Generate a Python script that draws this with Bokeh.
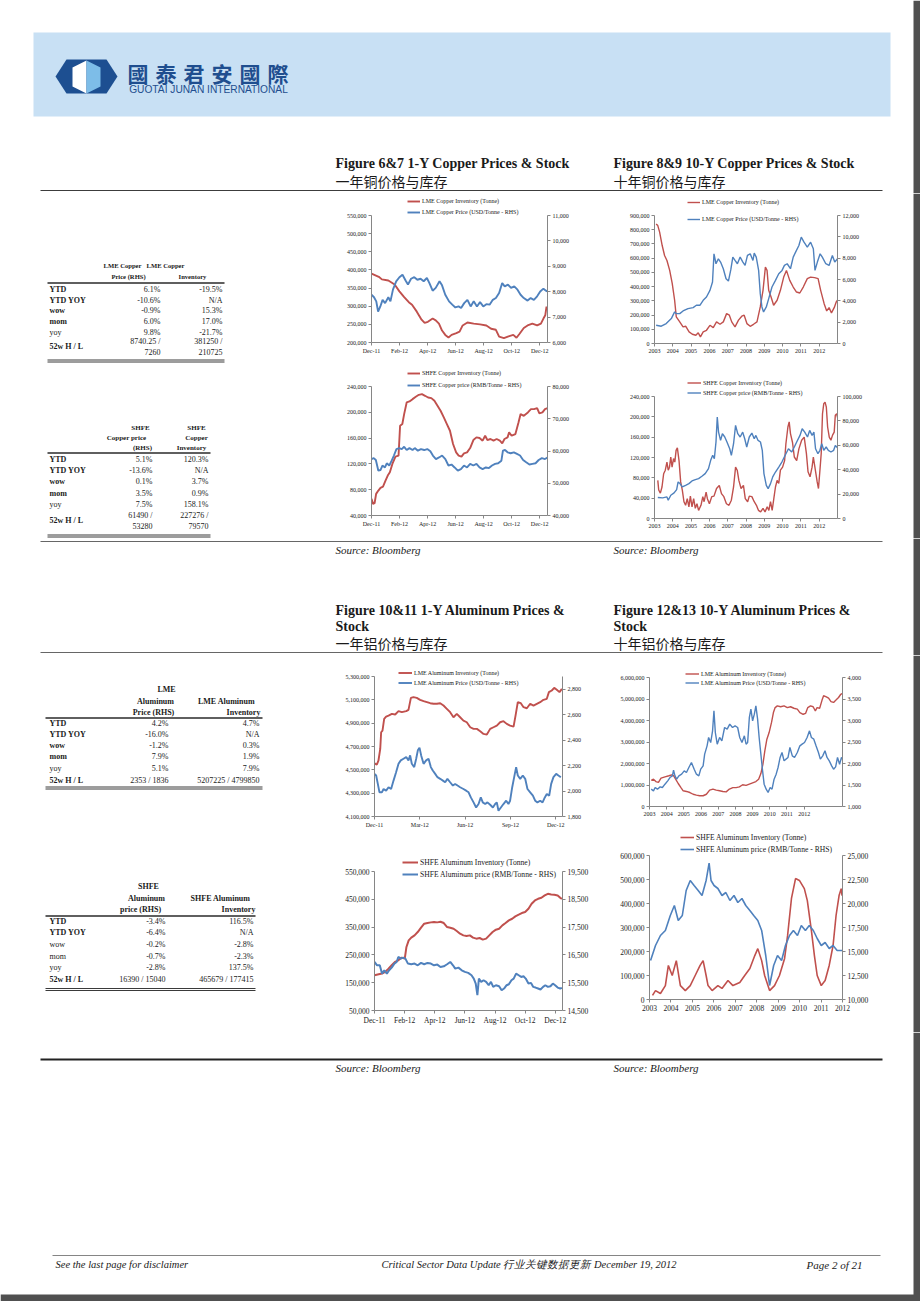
from bokeh.plotting import figure
from bokeh.models import Range1d, LinearAxis, FixedTicker, NumeralTickFormatter, Legend, LegendItem
from bokeh.layouts import column, row
from bokeh.core.properties import value
from bokeh.embed import file_html
from bokeh.resources import INLINE

SERIF = "Liberation Serif"
CJK = "Noto Sans CJK SC"
RED = "#c0504d"
BLUE = "#4f81bd"
AXC = "#868686"
INK = "#1a1a1a"
EDGE = "#505050"

# ---------------- DATA ----------------
# 1-Y charts: x = months since Dec-2011 ; 10-Y charts: x = years since 2003
m_ticks_2 = [0, 2, 4, 6, 8, 10, 12]
m_labels_2 = ["Dec-11", "Feb-12", "Apr-12", "Jun-12", "Aug-12", "Oct-12", "Dec-12"]
m_ticks_3 = [0, 3, 6, 9, 12]
m_labels_3 = ["Dec-11", "Mar-12", "Jun-12", "Sep-12", "Dec-12"]
y_ticks = [0, 1, 2, 3, 4, 5, 6, 7, 8, 9]
y_labels = ["2003", "2004", "2005", "2006", "2007", "2008", "2009", "2010", "2011", "2012"]

# LME copper 1Y
cu1y_inv_m = [0, 0.52, 0.74, 1.20, 1.65, 1.99, 2.33, 2.66, 2.89, 3.23, 3.57, 3.79, 4.02, 4.36, 4.58, 4.81, 5.03, 5.26, 5.49, 5.71,
              6.05, 6.28, 6.50, 6.84, 7.29, 7.74, 8.19, 8.53, 8.87, 9.10, 9.44, 9.77, 10.11, 10.34, 10.56, 10.86, 11.13, 11.47,
              11.81, 12.08, 12.26, 12.39, 12.48, 12.53]
cu1y_inv_kt = [390, 381, 374, 371, 360, 341, 325, 311, 304, 285, 263, 254, 257, 266, 261, 252, 233, 221, 214, 221,
               226, 230, 247, 255, 252, 250, 247, 238, 235, 216, 212, 217, 221, 213, 224, 240, 247, 252, 247, 252,
               266, 275, 299, 290]
cu1y_px_m = [0, 0.18, 0.34, 0.47, 0.63, 0.79, 0.97, 1.20, 1.35, 1.53, 1.76, 1.99, 2.21, 2.44, 2.60, 2.82, 3.05, 3.27, 3.50, 3.72,
             3.95, 4.13, 4.36, 4.58, 4.85, 5.03, 5.26, 5.53, 5.76, 5.98, 6.21, 6.39, 6.61, 6.84, 7.07, 7.29, 7.52, 7.74, 7.97, 8.19,
             8.42, 8.65, 8.87, 9.10, 9.32, 9.50, 9.73, 9.95, 10.18, 10.41, 10.63, 10.86, 11.13, 11.35, 11.58, 11.81, 12.03, 12.26,
             12.44, 12.53]
cu1y_px = [7880, 7780, 7620, 7220, 7420, 7680, 7550, 7780, 7620, 8080, 8410, 8570, 8670, 8430, 8280, 8510, 8570, 8470, 8510, 8410,
           8540, 8340, 8040, 8150, 8410, 8250, 7880, 7620, 7490, 7380, 7420, 7360, 7550, 7680, 7420, 7620, 7420, 7590, 7420, 7510,
           7490, 7680, 7750, 7950, 8340, 8210, 8280, 8150, 8210, 8080, 7880, 7750, 7650, 7750, 7680, 7820, 8010, 8120, 8040, 8010]

# LME copper 10Y
cu10y_inv_y = [0.09, 0.18, 0.28, 0.42, 0.55, 0.68, 0.83, 0.97, 1.10, 1.19, 1.38, 1.56, 1.71, 1.89, 2.07, 2.26, 2.39, 2.51, 2.66, 2.84,
               3.03, 3.21, 3.39, 3.58, 3.76, 3.94, 4.09, 4.22, 4.40, 4.59, 4.77, 4.90, 5.05, 5.23, 5.41, 5.60, 5.78, 5.93, 6.06, 6.15,
               6.24, 6.37, 6.51, 6.70, 6.88, 7.06, 7.21, 7.39, 7.58, 7.76, 7.94, 8.13, 8.35, 8.53, 8.75, 8.94, 9.08, 9.27, 9.41, 9.54,
               9.67, 9.82, 9.93, 10.00]
cu10y_inv_kt = [841, 829, 783, 689, 619, 584, 514, 421, 304, 187, 152, 117, 121, 82, 65, 58, 75, 47, 82, 93,
                128, 112, 152, 135, 152, 210, 199, 152, 117, 164, 192, 199, 140, 121, 135, 152, 257, 374, 537, 514,
                374, 327, 269, 304, 374, 467, 514, 444, 397, 362, 355, 397, 456, 467, 463, 456, 374, 280, 229, 252,
                215, 252, 292, 304]
cu10y_px_y = [0.09, 0.37, 0.64, 0.92, 1.10, 1.19, 1.38, 1.56, 1.83, 2.11, 2.29, 2.48, 2.66, 2.84, 3.03, 3.17, 3.25, 3.36, 3.49, 3.61,
              3.76, 3.91, 4.04, 4.17, 4.28, 4.40, 4.53, 4.68, 4.83, 4.95, 5.08, 5.23, 5.38, 5.45, 5.56, 5.69, 5.78, 5.87, 5.96, 6.11,
              6.24, 6.42, 6.61, 6.79, 6.97, 7.10, 7.25, 7.43, 7.58, 7.71, 7.89, 8.02, 8.17, 8.35, 8.53, 8.68, 8.77, 8.90, 9.05, 9.17,
              9.36, 9.54, 9.72, 9.85, 10.00]
cu10y_px = [1713, 1620, 1869, 2336, 2960, 2804, 2804, 3053, 3271, 3364, 3583, 3583, 4050, 4361, 4984, 5763, 8411, 7477, 7944, 7632,
            7009, 6075, 5857, 6916, 8100, 7788, 7477, 8100, 7632, 7321, 8255, 8411, 7788, 8474, 8100, 6854, 4673, 3427, 2960, 3427,
            4206, 5296, 5919, 6542, 6854, 7321, 7477, 7009, 8100, 8567, 9190, 9969, 9502, 9034, 9502, 8879, 6854, 7632, 8411, 8100,
            7477, 7321, 8255, 7632, 7944]

# SHFE copper 1Y
shcu1y_inv_m = [0, 0.11, 0.22, 0.33, 0.49, 0.64, 0.82, 1.00, 1.16, 1.31, 1.49, 1.71, 1.93, 2.04, 2.20, 2.33, 2.51, 2.71, 2.93, 3.16,
                3.38, 3.60, 3.82, 4.04, 4.27, 4.49, 4.71, 4.93, 5.16, 5.38, 5.60, 5.82, 6.04, 6.22, 6.42, 6.60, 6.82, 7.04, 7.27, 7.49,
                7.71, 7.93, 8.11, 8.27, 8.49, 8.71, 8.93, 9.16, 9.33, 9.49, 9.71, 9.82, 10.00, 10.27, 10.49, 10.64, 10.87, 11.16, 11.38,
                11.60, 11.82, 11.98, 12.20, 12.38, 12.56]
shcu1y_inv_kt = [65.8, 58, 59, 73.5, 78.7, 82.8, 84.8, 94.1, 101.9, 107, 119.9, 131.2, 132.8, 179.2, 181.8, 197.2, 215.3, 216.8, 220.4, 224,
                 227.1, 228.1, 225.6, 223, 222, 217.8, 210.1, 202.4, 192, 181.8, 171.4, 150.8, 137.9, 132.8, 131.2, 136.4, 137.9, 144.6, 157, 161.1,
                 160.1, 156, 163.7, 157, 158.6, 156, 158.6, 156, 151.9, 158.6, 161.1, 168.9, 163.7, 166.3, 184.3, 197.2, 194.6, 199.8, 204.9, 204.9,
                 206.5, 198.2, 199.8, 204.9, 206.5]
shcu1y_px_m = [0, 0.16, 0.31, 0.49, 0.64, 0.78, 0.96, 1.09, 1.27, 1.44, 1.60, 1.78, 1.98, 2.16, 2.33, 2.51, 2.71, 2.93, 3.09, 3.31,
               3.53, 3.76, 3.98, 4.20, 4.38, 4.60, 4.82, 5.04, 5.27, 5.49, 5.71, 5.93, 6.16, 6.38, 6.60, 6.82, 7.04, 7.27, 7.49, 7.71,
               7.93, 8.16, 8.38, 8.60, 8.82, 9.04, 9.27, 9.38, 9.53, 9.71, 9.93, 10.16, 10.38, 10.60, 10.82, 11.04, 11.27, 11.49, 11.71,
               11.93, 12.16, 12.38, 12.56]
shcu1y_px_k = [57.5, 57.8, 57.2, 53.9, 54.1, 55.5, 54.9, 56.2, 55.5, 57, 58.6, 60.6, 60.9, 60.6, 61.3, 60.3, 60.9, 60.3, 60.9, 60.1,
               60.6, 60.3, 60.6, 59.9, 58.6, 57.5, 58, 58.6, 57.5, 55.5, 55.8, 54.9, 53.9, 54.4, 55.5, 54.9, 56, 55.5, 56, 54.9,
               54.4, 54.9, 54.7, 55.5, 56, 56.2, 57, 60.1, 60.3, 59.6, 59.3, 59.6, 59.1, 58.6, 57.2, 56.5, 55.8, 56, 56.2, 57.2,
               57.8, 57.5, 58]

# SHFE copper 10Y
shcu10y_inv_y = [0.18, 0.23, 0.32, 0.41, 0.50, 0.59, 0.68, 0.75, 0.82, 0.89, 0.96, 1.04, 1.11, 1.18, 1.25, 1.34, 1.43, 1.52, 1.61, 1.70,
                 1.79, 1.88, 1.96, 2.05, 2.14, 2.23, 2.32, 2.41, 2.54, 2.64, 2.71, 2.82, 2.89, 3.00, 3.13, 3.25, 3.39, 3.54, 3.66, 3.79,
                 3.93, 4.07, 4.20, 4.32, 4.43, 4.52, 4.61, 4.73, 4.86, 4.96, 5.09, 5.18, 5.32, 5.45, 5.57, 5.68, 5.80, 5.93, 6.04, 6.16,
                 6.25, 6.34, 6.43, 6.52, 6.61, 6.70, 6.79, 6.88, 7.00, 7.11, 7.18, 7.29, 7.36, 7.43, 7.54, 7.64, 7.77, 7.89, 8.04, 8.18,
                 8.30, 8.39, 8.50, 8.61, 8.68, 8.79, 8.89, 8.96, 9.04, 9.11, 9.18, 9.25, 9.32, 9.39, 9.46, 9.55, 9.64, 9.73, 9.82, 9.88,
                 9.96, 10.00]
shcu10y_inv_kt = [75, 56, 50, 62, 88, 95, 111, 95, 101, 121, 101, 118, 111, 134, 139, 114, 72, 56, 33, 26,
                  39, 23, 44, 23, 39, 20, 29, 16, 26, 43, 33, 52, 39, 29, 43, 44, 59, 65, 49, 43,
                  29, 26, 36, 62, 101, 95, 75, 59, 65, 39, 33, 44, 43, 33, 26, 16, 13, 20, 13, 23,
                  16, 33, 16, 39, 62, 75, 69, 95, 101, 114, 147, 180, 190, 167, 150, 121, 114, 137, 154, 160,
                  128, 92, 82, 101, 121, 95, 72, 59, 95, 128, 206, 226, 229, 219, 180, 160, 154, 164, 170, 203,
                  206, 199]
shcu10y_px_y = [0.18, 0.45, 0.68, 0.75, 0.89, 1.07, 1.21, 1.29, 1.39, 1.52, 1.70, 1.88, 2.05, 2.23, 2.41, 2.59, 2.77, 2.95, 3.07, 3.18,
                3.27, 3.36, 3.43, 3.50, 3.61, 3.71, 3.84, 3.96, 4.11, 4.20, 4.32, 4.43, 4.55, 4.68, 4.82, 4.93, 5.04, 5.18, 5.32, 5.45,
                5.54, 5.66, 5.79, 5.89, 5.98, 6.11, 6.21, 6.34, 6.46, 6.61, 6.79, 6.96, 7.14, 7.32, 7.50, 7.64, 7.77, 7.95, 8.07, 8.21,
                8.36, 8.48, 8.61, 8.71, 8.80, 8.93, 9.04, 9.14, 9.25, 9.38, 9.50, 9.64, 9.79, 9.88, 10.00]
shcu10y_px_k = [17.2, 16.9, 17.7, 15, 19.1, 21, 23.7, 30, 28.6, 25.9, 27.2, 28.6, 30.8, 31.9, 32.7, 34.6, 36.8, 40.9, 47.7, 51.8,
                49, 62.7, 83.1, 70.8, 64, 69.5, 66.8, 62.7, 57.2, 51.8, 61.3, 76.3, 69.5, 66.8, 70.8, 65.4, 58.6, 66.8, 70, 65.4,
                68.1, 64, 62.7, 55.9, 36.8, 27.2, 24.5, 28.6, 34.1, 38.1, 42.2, 46.3, 51.8, 57.2, 54.5, 58.6, 62.7, 68.1, 73.6, 70.8,
                66.8, 72.2, 68.1, 70.8, 57.2, 53.1, 55.9, 61.3, 55.9, 58.6, 55.9, 54.5, 55.9, 59.9, 58]

# LME aluminium 1Y
lmeal1y_inv_m = [0, 0.15, 0.26, 0.38, 0.44, 0.53, 0.64, 0.77, 0.93, 1.15, 1.37, 1.59, 1.81, 2.10, 2.25, 2.41, 2.58, 2.80, 3.02, 3.25,
                 3.47, 3.69, 3.91, 4.13, 4.35, 4.57, 4.79, 5.01, 5.23, 5.45, 5.67, 5.89, 6.11, 6.34, 6.56, 6.78, 7.00, 7.22, 7.44, 7.66,
                 7.88, 8.10, 8.32, 8.54, 8.76, 8.98, 9.21, 9.34, 9.49, 9.69, 9.87, 10.09, 10.31, 10.53, 10.75, 10.97, 11.19, 11.41, 11.55,
                 11.74, 11.90, 12.07, 12.25, 12.41]
lmeal1y_inv_kt = [4555, 4544, 4578, 4679, 4822, 4836, 4937, 4957, 4965, 4980, 4974, 5003, 4994, 5003, 5014, 5117, 5123, 5117, 5100, 5089,
                  5080, 5071, 5066, 5066, 5071, 5051, 5023, 4994, 4951, 4980, 4951, 4922, 4908, 4865, 4851, 4851, 4831, 4808, 4802, 4851,
                  4865, 4879, 4908, 4917, 4894, 4879, 4871, 4965, 5080, 5071, 5037, 5028, 5066, 5051, 5066, 5080, 5100, 5109, 5166, 5180,
                  5203, 5186, 5166, 5194]
lmeal1y_px_m = [0, 0.11, 0.22, 0.33, 0.49, 0.60, 0.77, 0.93, 1.10, 1.26, 1.43, 1.59, 1.74, 1.92, 2.10, 2.25, 2.36, 2.47, 2.63, 2.76,
                2.87, 2.98, 3.09, 3.25, 3.42, 3.58, 3.73, 3.86, 4.02, 4.17, 4.35, 4.53, 4.68, 4.83, 5.01, 5.19, 5.34, 5.50, 5.67, 5.89,
                6.07, 6.23, 6.38, 6.56, 6.73, 6.89, 7.04, 7.17, 7.33, 7.48, 7.66, 7.84, 7.99, 8.10, 8.21, 8.37, 8.54, 8.72, 8.87, 8.98,
                9.12, 9.25, 9.38, 9.49, 9.65, 9.82, 9.98, 10.13, 10.31, 10.49, 10.64, 10.79, 10.97, 11.13, 11.28, 11.41, 11.57, 11.70,
                11.85, 12.03, 12.18, 12.34]
lmeal1y_px = [2135, 2122, 2056, 1990, 1990, 2016, 2003, 2030, 2016, 2082, 2148, 2214, 2241, 2254, 2267, 2241, 2280, 2214, 2188, 2254,
              2320, 2341, 2280, 2214, 2241, 2254, 2188, 2161, 2135, 2109, 2096, 2082, 2069, 2096, 2069, 2043, 2056, 2043, 2030, 2016,
              2003, 1990, 1950, 1911, 1871, 1898, 1950, 1911, 1898, 1911, 1892, 1871, 1898, 1911, 1845, 1871, 1898, 1924, 1898, 1924,
              2030, 2109, 2188, 2122, 2096, 2122, 2096, 2016, 1990, 1964, 1924, 1911, 1924, 1911, 1950, 1977, 1964, 2056, 2109, 2135,
              2122, 2109]

# LME aluminium 10Y
lmeal10y_inv_y = [0.10, 0.23, 0.37, 0.52, 0.67, 0.90, 1.13, 1.29, 1.40, 1.52, 1.67, 1.83, 1.96, 2.15, 2.35, 2.54, 2.73, 2.92, 3.12, 3.31,
                  3.50, 3.69, 3.88, 4.08, 4.27, 4.46, 4.65, 4.85, 5.04, 5.23, 5.42, 5.62, 5.81, 6.00, 6.19, 6.35, 6.48, 6.60, 6.71, 6.83,
                  6.96, 7.10, 7.21, 7.31, 7.44, 7.63, 7.83, 8.02, 8.21, 8.40, 8.60, 8.75, 8.94, 9.08, 9.21, 9.37, 9.52, 9.65, 9.75, 9.90,
                  10.04, 10.13, 10.29, 10.42, 10.56, 10.71, 10.85, 11.00, 11.13, 11.23]
lmeal10y_inv_mt = [1.22, 1.27, 1.16, 1.12, 1.32, 1.38, 1.43, 1.47, 1.43, 1.27, 1.07, 0.88, 0.73, 0.70, 0.65, 0.57, 0.53, 0.50, 0.50, 0.57,
                   0.76, 0.81, 0.76, 0.73, 0.70, 0.68, 0.81, 0.88, 0.88, 0.91, 1.01, 0.98, 1.04, 1.10, 1.16, 1.27, 1.53, 1.97, 2.59, 3.13,
                   3.44, 3.91, 4.37, 4.60, 4.68, 4.64, 4.68, 4.60, 4.64, 4.57, 4.53, 4.37, 4.29, 4.33, 4.60, 4.68, 4.64, 4.45, 4.60, 4.57,
                   4.95, 5.15, 5.10, 5.04, 4.88, 4.84, 4.95, 5.07, 5.22, 5.26]
lmeal10y_px_y = [0.10, 0.23, 0.33, 0.46, 0.62, 0.75, 0.90, 1.06, 1.19, 1.33, 1.40, 1.48, 1.58, 1.71, 1.87, 2.02, 2.15, 2.29, 2.44, 2.60,
                 2.73, 2.87, 2.98, 3.12, 3.21, 3.35, 3.44, 3.56, 3.67, 3.75, 3.83, 3.94, 4.08, 4.21, 4.37, 4.52, 4.67, 4.83, 4.98, 5.13,
                 5.25, 5.38, 5.52, 5.62, 5.71, 5.81, 5.90, 6.00, 6.10, 6.19, 6.29, 6.38, 6.48, 6.58, 6.67, 6.79, 6.90, 7.02, 7.13, 7.25,
                 7.37, 7.48, 7.60, 7.71, 7.83, 7.94, 8.06, 8.17, 8.31, 8.44, 8.60, 8.75, 8.88, 9.02, 9.17, 9.31, 9.42, 9.56, 9.69, 9.83,
                 9.94, 10.08, 10.21, 10.33, 10.46, 10.60, 10.71, 10.83, 10.94, 11.06, 11.17, 11.23]
lmeal10y_px = [1403, 1364, 1442, 1403, 1457, 1442, 1519, 1597, 1674, 1713, 1845, 1713, 1636, 1713, 1752, 1829, 1791, 1907, 2023, 1868,
               1752, 1713, 1868, 1946, 2217, 2411, 2605, 2488, 2760, 3225, 2721, 2450, 2605, 2527, 2837, 2798, 2915, 2837, 2876, 2837,
               2605, 2488, 2643, 2450, 2488, 3070, 3264, 2992, 3147, 3341, 3031, 2605, 2217, 1829, 1519, 1403, 1326, 1442, 1403, 1636,
               1752, 1907, 2140, 2256, 2062, 2101, 2140, 2372, 2178, 2140, 2256, 2411, 2450, 2488, 2605, 2760, 2605, 2566, 2411, 2256,
               2101, 2178, 2295, 2140, 2062, 1946, 1868, 1922, 2140, 1984, 2140, 2101]

# SHFE aluminium 1Y
shal1y_inv_m = [0, 0.28, 0.50, 0.71, 0.93, 1.14, 1.36, 1.58, 1.79, 2.01, 2.12, 2.27, 2.44, 2.66, 2.87, 3.09, 3.30, 3.52, 3.74, 3.95,
                4.17, 4.38, 4.60, 4.82, 5.03, 5.25, 5.46, 5.68, 5.90, 6.11, 6.33, 6.54, 6.76, 6.98, 7.19, 7.41, 7.62, 7.84, 8.06, 8.27,
                8.49, 8.70, 8.92, 9.14, 9.35, 9.57, 9.78, 10.00, 10.22, 10.43, 10.65, 10.86, 11.08, 11.30, 11.51, 11.73, 11.94, 12.16,
                12.33, 12.44]
shal1y_inv_kt = [176.8, 180.4, 182.8, 188.8, 200.7, 212.7, 224.6, 230.6, 240.2, 236.6, 278.5, 302.4, 312, 320.3, 332.3, 347.8, 362.2, 364.6, 367, 368.2,
                 367, 369.4, 364.6, 350.2, 347.8, 344.3, 335.9, 326.3, 320.3, 317.9, 320.3, 312, 308.4, 310.8, 304.8, 308.4, 320.3, 332.3, 340.7, 344.3,
                 356.2, 364.6, 374.2, 380.1, 388.5, 394.5, 400.5, 404.1, 416, 434, 445.9, 451.9, 455.5, 463.9, 469.9, 467.5, 466.3, 463.9, 455.5, 451.9]
shal1y_px_m = [0, 0.17, 0.35, 0.50, 0.65, 0.82, 0.97, 1.14, 1.32, 1.47, 1.58, 1.75, 1.90, 2.05, 2.22, 2.44, 2.66, 2.87, 3.09, 3.30,
               3.52, 3.74, 3.95, 4.17, 4.38, 4.60, 4.82, 5.03, 5.21, 5.36, 5.57, 5.79, 6.00, 6.22, 6.44, 6.59, 6.72, 6.83, 6.93, 7.08,
               7.24, 7.41, 7.58, 7.73, 7.88, 8.06, 8.27, 8.44, 8.60, 8.77, 8.92, 9.09, 9.24, 9.40, 9.57, 9.74, 9.89, 10.04, 10.22, 10.39,
               10.54, 10.69, 10.86, 11.02, 11.19, 11.34, 11.51, 11.68, 11.84, 11.99, 12.16, 12.33, 12.44]
shal1y_px = [16246, 16127, 16127, 15828, 15947, 15828, 15947, 16043, 16187, 16246, 16426, 16366, 16402, 16366, 16187, 16163, 16187, 16127, 16211, 16163,
             16211, 16187, 16127, 16151, 16067, 16091, 16163, 16246, 16127, 16007, 16043, 15947, 15888, 15852, 15768, 15648, 15469, 15050, 15648, 15529,
             15589, 15529, 15409, 15529, 15349, 15409, 15373, 15230, 15290, 15409, 15445, 15589, 15648, 15828, 15768, 15708, 15732, 15648, 15469, 15493,
             15349, 15325, 15290, 15254, 15349, 15409, 15349, 15373, 15469, 15409, 15325, 15290, 15313]

# SHFE aluminium 10Y
shal10y_inv_y = [0.14, 0.28, 0.51, 0.74, 0.88, 1.06, 1.25, 1.44, 1.67, 1.90, 2.13, 2.36, 2.50, 2.64, 2.73, 2.92, 3.19, 3.38, 3.66, 3.89,
                 4.21, 4.44, 4.68, 4.91, 5.05, 5.23, 5.37, 5.60, 5.83, 6.06, 6.30, 6.44, 6.62, 6.81, 6.99, 7.22, 7.36, 7.55, 7.69, 7.82,
                 8.01, 8.19, 8.38, 8.56, 8.70, 8.84, 8.94, 8.98]
shal10y_inv_kt = [17, 37, 25, 58, 142, 100, 162, 58, 37, 58, 100, 142, 162, 100, 58, 37, 58, 46, 79, 58,
                  71, 100, 129, 183, 212, 162, 100, 37, 58, 100, 171, 267, 421, 504, 496, 462, 412, 287, 183, 100,
                  58, 79, 142, 225, 350, 433, 462, 433]
shal10y_px_y = [0.05, 0.28, 0.51, 0.74, 0.97, 1.16, 1.34, 1.53, 1.71, 1.90, 2.08, 2.27, 2.45, 2.64, 2.78, 2.87, 3.01, 3.19, 3.38, 3.56,
                3.75, 3.94, 4.12, 4.31, 4.49, 4.68, 4.86, 5.05, 5.23, 5.42, 5.60, 5.79, 5.97, 6.16, 6.34, 6.53, 6.71, 6.90, 7.08, 7.27,
                7.45, 7.64, 7.82, 8.01, 8.19, 8.38, 8.56, 8.75, 8.98]
shal10y_px = [14063, 15625, 16667, 17188, 18750, 19792, 18229, 18750, 21354, 22396, 21875, 21354, 20833, 22396, 24200, 22396, 21875, 21563, 20833, 21146,
              20313, 20833, 20104, 20521, 19792, 19271, 18750, 18229, 17188, 14583, 11458, 13542, 14583, 14063, 15625, 16667, 17188, 16667, 17708, 17188,
              17708, 17188, 16354, 15625, 15938, 15313, 15625, 15104, 15104]

# tables
row_labels = ["YTD", "YTD YOY", "wow", "mom", "yoy", "52w H / L"]
lme_cu_price = ["6.1%", "-10.6%", "-0.9%", "6.0%", "9.8%", "8740.25 / 7260"]
lme_cu_inv = ["-19.5%", "N/A", "15.3%", "17.0%", "-21.7%", "381250 / 210725"]
shfe_cu_price = ["5.1%", "-13.6%", "0.1%", "3.5%", "7.5%", "61490 / 53280"]
shfe_cu_inv = ["120.3%", "N/A", "3.7%", "0.9%", "158.1%", "227276 / 79570"]
lme_al_price = ["4.2%", "-16.0%", "-1.2%", "7.9%", "5.1%", "2353 / 1836"]
lme_al_inv = ["4.7%", "N/A", "0.3%", "1.9%", "7.9%", "5207225 / 4799850"]
shfe_al_price = ["-3.4%", "-6.4%", "-0.2%", "-0.7%", "-2.8%", "16390 / 15040"]
shfe_al_inv = ["116.5%", "N/A", "-2.8%", "-2.3%", "137.5%", "465679 / 177415"]

PAGE_W = 920


# ---------------- helpers ----------------
def canvas(x0, x1, y0, y1):
    p = figure(width=x1 - x0, height=y1 - y0, x_range=Range1d(x0, x1), y_range=Range1d(y1, y0),
               output_backend="svg", toolbar_location=None, min_border=0,
               x_axis_type=None, y_axis_type=None, title=None)
    p.outline_line_color = None
    p.background_fill_color = "white"
    p.border_fill_color = "white"
    if x1 >= PAGE_W:
        p.quad(left=[913], right=[PAGE_W], top=[y0], bottom=[y1], fill_color=EDGE, line_color=None)
    return p


def txt(p, x, y, s, size, font=SERIF, align="left", style="normal", color=INK):
    p.text(x=[x], y=[y], text=[s], text_font=value(font), text_font_size=size, text_align=align,
           text_baseline="middle", text_font_style=style, text_color=color)


def hline(p, x0, x1, y, w=1.0, color="#3a3a3a"):
    p.segment(x0=[x0], y0=[y], x1=[x1], y1=[y], line_width=w, line_color=color)


def make_chart(w, h, bl, br, bt, bb, x_end, l_rng, l_ticks, r_rng, r_ticks, x_ticks, x_labels,
               inv_x, inv_y, px_x, px_y, lab_inv, lab_px, leg_x, leg_top, item_h, gap, glyph_w,
               tick_fs, leg_fs, lw):
    fh = h - bt - bb
    e = bt - 1
    l0, l1 = l_rng
    r0, r1 = r_rng
    L1 = l1 + (l1 - l0) * e / fh
    R1 = r1 + (r1 - r0) * e / fh
    p = figure(width=w, height=h, x_range=Range1d(0, x_end), y_range=Range1d(l0, L1),
               output_backend="svg", toolbar_location=None, title=None,
               min_border_left=bl, min_border_right=br, min_border_top=bt - e, min_border_bottom=bb)
    p.extra_y_ranges = {"r": Range1d(r0, R1)}
    rax = LinearAxis(y_range_name="r")
    p.add_layout(rax, "right")
    lax = p.left[0]
    lax.bounds = (l0, l1)
    rax.bounds = (r0, r1)
    p.outline_line_color = None
    p.grid.visible = False
    p.background_fill_color = "white"
    p.border_fill_color = "white"
    for ax in [lax, rax, p.below[0]]:
        ax.axis_line_color = AXC
        ax.major_tick_line_color = AXC
        ax.major_tick_out = 3
        ax.major_tick_in = 0
        ax.minor_tick_line_color = None
        ax.major_label_text_font = SERIF
        ax.major_label_text_font_size = tick_fs
        ax.major_label_text_color = INK
        ax.major_label_standoff = 2
    lax.ticker = FixedTicker(ticks=l_ticks)
    rax.ticker = FixedTicker(ticks=r_ticks)
    lax.formatter = NumeralTickFormatter(format="0,0")
    rax.formatter = NumeralTickFormatter(format="0,0")
    p.xaxis.ticker = FixedTicker(ticks=x_ticks)
    p.xaxis.major_label_overrides = {t: s for t, s in zip(x_ticks, x_labels)}
    r1_ = p.line(inv_x, inv_y, line_color=RED, line_width=lw)
    r2_ = p.line(px_x, px_y, line_color=BLUE, line_width=lw, y_range_name="r")
    fh2 = fh + e
    ly = fh2 - (e + leg_top + 2 * item_h + gap)
    leg = Legend(items=[LegendItem(label=lab_inv, renderers=[r1_]), LegendItem(label=lab_px, renderers=[r2_])],
                 location=(leg_x, ly), orientation="vertical", padding=0, margin=0, spacing=gap,
                 glyph_width=glyph_w, glyph_height=item_h, label_height=item_h, label_standoff=2,
                 label_text_font=SERIF, label_text_font_size=leg_fs, label_text_color=INK,
                 border_line_color=None, background_fill_alpha=0)
    p.add_layout(leg)
    return p


def kt(vals, f=1000):
    return [v * f for v in vals]


def table(p, headers, c1, c2, bold, lab_x, c1_r, c2_r, ys, two_line, lx0, lx1, hy, by, fs, hfs):
    for (s, x, y) in headers:
        txt(p, x, y, s, hfs, align="center", style="bold")
    hline(p, lx0, lx1, hy, 1.3, "#2a2a2a")
    for i, lab in enumerate(row_labels):
        y = ys[i]
        txt(p, lab_x, y, lab, fs, style="bold" if bold[i] else "normal")
        if i == len(row_labels) - 1 and two_line:
            a1, b1 = c1[i].split(" / ")
            a2, b2 = c2[i].split(" / ")
            txt(p, c1_r, y - 5.3, a1 + " /", fs, align="right")
            txt(p, c1_r, y + 5.3, b1, fs, align="right")
            txt(p, c2_r, y - 5.3, a2 + " /", fs, align="right")
            txt(p, c2_r, y + 5.3, b2, fs, align="right")
        else:
            txt(p, c1_r, y, c1[i], fs, align="right")
            txt(p, c2_r, y, c2[i], fs, align="right")
    hline(p, lx0, lx1, by, 1.0, "#3a3a3a")
    hline(p, lx0, lx1, by + 2, 1.0, "#3a3a3a")


# ---------------- top band ----------------
top = canvas(0, PAGE_W, 0, 193)
top.quad(left=[33], right=[890], top=[32], bottom=[116], fill_color="#c8e0f4", line_color=None)
top.patch([55, 66, 106, 117, 106, 66], [76, 59, 59, 76, 93, 93], fill_color="#1d4f91", line_color=None)
top.patch([72, 86, 86, 72], [67, 60, 93, 86], fill_color="white", line_color=None)
top.patch([86, 100, 100, 86], [60, 67, 86, 93], fill_color="#7dbde8", line_color=None)
for i, ch in enumerate("國泰君安國際"):
    txt(top, 137.5 + i * 28, 72, ch, "21px", font="Noto Sans CJK TC", align="center", style="bold", color="#1f4e8f")
txt(top, 208, 88.5, "GUOTAI JUNAN INTERNATIONAL", "10.2px", font="Liberation Sans", align="center", color="#1f4e8f")
txt(top, 335, 163, "Figure 6&7 1-Y Copper Prices & Stock", "14px", style="bold")
txt(top, 335, 180, "一年铜价格与库存", "14px", font=CJK)
txt(top, 613, 163, "Figure 8&9 10-Y Copper Prices & Stock", "14px", style="bold")
txt(top, 613, 180, "十年铜价格与库存", "14px", font=CJK)
hline(top, 40, 882, 190, 1.2, "#3c3c3c")

# ---------------- row 1 ----------------
left1 = canvas(0, 330, 193, 538)
table(left1, [("LME Copper", 122, 265), ("Price (RHS)", 128, 276), ("LME Copper", 165, 265), ("Inventory", 192, 276)],
      lme_cu_price, lme_cu_inv, [True, True, True, True, False, True], 49, 160, 222,
      [289, 299.5, 310, 321, 331.5, 346], True, 47, 224, 282.5, 359.5, "8px", "6.6px")
table(left1, [("SHFE", 140, 427), ("SHFE", 196, 427), ("Copper price", 126, 437), ("Copper", 196, 437),
              ("(RHS)", 142, 447), ("Inventory", 191, 447)],
      shfe_cu_price, shfe_cu_inv, [True, True, True, True, False, True], 49, 152, 208,
      [458.5, 469.5, 481, 492.5, 504, 520], True, 47, 210, 452.5, 534.5, "8px", "7px")

ch1 = make_chart(280, 169, 34, 63, 22, 20, 12.55, (200000, 550000), list(range(200000, 550001, 50000)),
                 (6000, 11000), list(range(6000, 11001, 1000)), m_ticks_2, m_labels_2,
                 cu1y_inv_m, kt(cu1y_inv_kt), cu1y_px_m, cu1y_px,
                 "LME Copper Inventory (Tonne)", "LME Copper Price (USD/Tonne - RHS)",
                 36, -18, 8, 3, 13, "6px", "6px", 1.9)
ch3 = make_chart(280, 176, 41, 50, 24, 23, 12.56, (40000, 240000), list(range(40000, 240001, 40000)),
                 (40000, 80000), list(range(40000, 80001, 10000)), m_ticks_2, m_labels_2,
                 shcu1y_inv_m, kt(shcu1y_inv_kt), shcu1y_px_m, kt(shcu1y_px_k),
                 "SHFE Copper Inventory (Tonne)", "SHFE Copper price (RMB/Tonne - RHS)",
                 36, -17, 8, 4, 13, "6px", "6px", 1.9)
ch2 = make_chart(280, 169, 44, 53, 22, 19, 10, (0, 900000), list(range(0, 900001, 100000)),
                 (0, 12000), list(range(0, 12001, 2000)), y_ticks, y_labels,
                 cu10y_inv_y, kt(cu10y_inv_kt), cu10y_px_y, cu10y_px,
                 "LME Copper Inventory (Tonne)", "LME Copper Price (USD/Tonne - RHS)",
                 33, -17, 8, 9, 13, "6px", "6px", 1.4)
ch4 = make_chart(280, 176, 40, 53, 34, 20, 10, (0, 240000), list(range(0, 240001, 40000)),
                 (0, 100000), list(range(0, 100001, 20000)), y_ticks, y_labels,
                 shcu10y_inv_y, kt(shcu10y_inv_kt), shcu10y_px_y, kt(shcu10y_px_k),
                 "SHFE Copper Inventory (Tonne)", "SHFE Copper price (RMB/Tonne - RHS)",
                 33, -17, 7, 3, 14, "6px", "6px", 1.4)
fill1 = canvas(890, PAGE_W, 193, 538)
row1 = row(left1, column(ch1, ch3), column(ch2, ch4), fill1)

# ---------------- middle band ----------------
mid = canvas(0, PAGE_W, 538, 655)
hline(mid, 40, 882, 541, 0.9, "#555555")
txt(mid, 335, 549, "Source: Bloomberg", "11px", style="italic")
txt(mid, 613, 549, "Source: Bloomberg", "11px", style="italic")
txt(mid, 335, 610, "Figure 10&11 1-Y Aluminum Prices &", "14px", style="bold")
txt(mid, 335, 626, "Stock", "14px", style="bold")
txt(mid, 335, 642, "一年铝价格与库存", "14px", font=CJK)
txt(mid, 613, 610, "Figure 12&13 10-Y Aluminum Prices &", "14px", style="bold")
txt(mid, 613, 626, "Stock", "14px", style="bold")
txt(mid, 613, 642, "十年铝价格与库存", "14px", font=CJK)
hline(mid, 40, 882, 652, 0.9, "#555555")

# ---------------- row 2 ----------------
left2 = canvas(0, 330, 655, 1032)
table(left2, [("LME", 166, 689), ("Aluminum", 155, 701), ("Price (RHS)", 153, 712),
              ("LME Aluminum", 226, 701), ("Inventory", 243, 712)],
      lme_al_price, lme_al_inv, [True, True, True, True, False, True], 49, 168, 259,
      [722.5, 733.5, 744.5, 756, 767.5, 779.5], False, 45, 262, 717.5, 786.5, "8px", "8px")
table(left2, [("SHFE", 148, 886), ("Aluminum", 146, 898), ("price (RHS)", 140, 909),
              ("SHFE Aluminum", 220, 898), ("Inventory", 238, 909)],
      shfe_al_price, shfe_al_inv, [True, True, False, False, False, True], 49, 165, 253,
      [920.5, 932, 943.5, 955.5, 967, 979], False, 45, 255, 915.5, 988, "8px", "8px")

ch5 = make_chart(280, 183, 44, 48, 21, 22, 12.45, (4100000, 5300000), list(range(4100000, 5300001, 200000)),
                 (1800, 2900), list(range(1800, 2801, 200)), m_ticks_3, m_labels_3,
                 lmeal1y_inv_m, kt(lmeal1y_inv_kt), lmeal1y_px_m, lmeal1y_px,
                 "LME Aluminum Inventory (Tonne)", "LME Aluminum Price (USD/Tonne - RHS)",
                 24, -7, 7, 3, 14, "6px", "6px", 1.9)
ch7 = make_chart(280, 194, 42, 45, 33, 22, 12.48, (50000, 550000), list(range(50000, 550001, 100000)),
                 (14500, 19500), list(range(14500, 19501, 1000)), m_ticks_2, m_labels_2,
                 shal1y_inv_m, kt(shal1y_inv_kt), shal1y_px_m, shal1y_px,
                 "SHFE Aluminum Inventory (Tonne)", "SHFE Aluminum price (RMB/Tonne - RHS)",
                 28, -14, 10, 2, 16, "7.5px", "7.6px", 2.0)
ch6 = make_chart(280, 167, 38, 48, 22, 16, 11.23, (0, 6000000), list(range(0, 6000001, 1000000)),
                 (1000, 4000), list(range(1000, 4001, 500)), y_ticks, y_labels,
                 lmeal10y_inv_y, kt(lmeal10y_inv_mt, 1000000), lmeal10y_px_y, lmeal10y_px,
                 "LME Aluminum Inventory (Tonne)", "LME Aluminum Price (USD/Tonne - RHS)",
                 36, -7, 7, 2, 14, "6px", "6px", 1.4)
ch8 = make_chart(280, 210, 39, 47, 33, 33, 9, (0, 600000), list(range(0, 600001, 100000)),
                 (10000, 25000), list(range(10000, 25001, 2500)), y_ticks, y_labels,
                 shal10y_inv_y, kt(shal10y_inv_kt), shal10y_px_y, shal10y_px,
                 "SHFE Aluminum Inventory (Tonne)", "SHFE Aluminum price (RMB/Tonne - RHS)",
                 31, -23, 10, 2, 14, "7.5px", "7.6px", 1.6)
fill2 = canvas(890, PAGE_W, 655, 1032)
row2 = row(left2, column(ch5, ch7), column(ch6, ch8), fill2)

# ---------------- bottom band ----------------
bot = canvas(0, PAGE_W, 1032, 1301)
hline(bot, 40, 882, 1059, 1.8, "#222222")
txt(bot, 335, 1067, "Source: Bloomberg", "11px", style="italic")
txt(bot, 613, 1067, "Source: Bloomberg", "11px", style="italic")
hline(bot, 52, 880, 1255, 0.8, "#666666")
txt(bot, 55, 1264, "See the last page for disclaimer", "10.5px", style="italic")
txt(bot, 381, 1264, "Critical Sector Data Update  行业关键数据更新 December 19, 2012", "10.5px", style="italic")
txt(bot, 862, 1264, "Page 2 of 21", "11px", style="italic", align="right")
bot.quad(left=[0], right=[PAGE_W], top=[1294], bottom=[1301], fill_color=EDGE, line_color=None)

page = column(top, row1, mid, row2, bot)
open("out.html", "w").write(file_html(page, INLINE))
